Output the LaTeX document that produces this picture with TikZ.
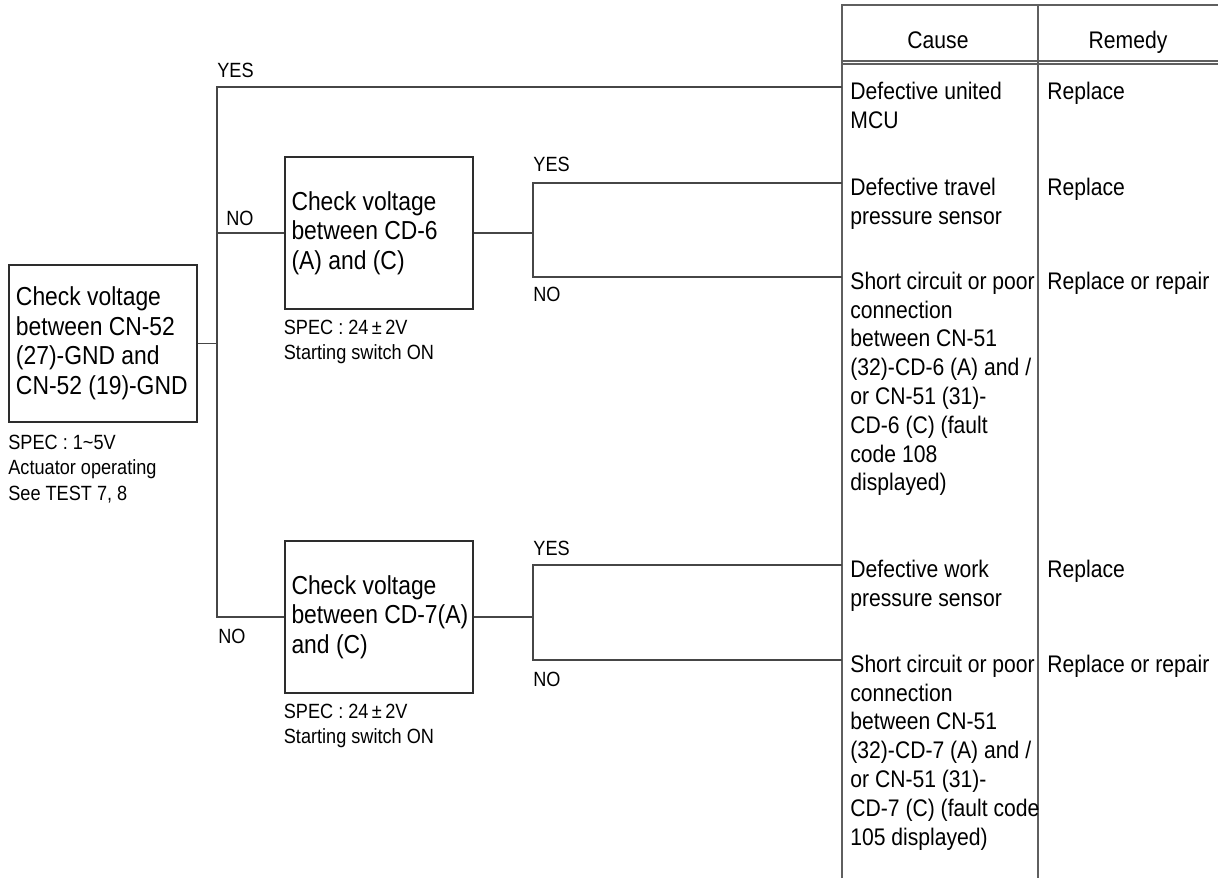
\documentclass[tikz,border=0pt]{standalone}
\usepackage{fontspec}
\setmainfont{Liberation Sans}[FakeStretch=0.88]
\usepackage{tikz}
\usetikzlibrary{positioning}
\definecolor{BoxGrey}{RGB}{45,45,45}
\definecolor{WireGrey}{RGB}{70,70,70}
\definecolor{RuleGrey}{RGB}{95,95,95}

\begin{document}
\begin{tikzpicture}[x=0.5pt,y=-0.5pt,
  chkbox/.style={draw=BoxGrey,line width=1pt,align=flush left,inner xsep=3.5pt,text width=87pt,minimum height=76pt,font=\fontsize{13}{14.75}\selectfont},
  note/.style={anchor=north west,inner sep=0pt,align=flush left,font=\fontsize{10.3}{12.6}\selectfont},
  yn/.style={anchor=west,inner sep=0pt,font=\fontsize{10.3}{12}\selectfont},
  cell/.style={anchor=north west,inner sep=0pt,align=flush left,font=\fontsize{12}{14.4}\selectfont},
  wire/.style={draw=WireGrey,line width=0.75pt},
  rule/.style={draw=RuleGrey,line width=1pt}]
\useasboundingbox (0,0) rectangle (1218,881);
% check boxes
\node[chkbox,minimum height=78.5pt] (chk52) at (103,343.5) {Check voltage\\between CN-52\\(27)-GND and\\\mbox{CN-52 (19)-GND}};
\node[chkbox] (chkcd6) at (378.5,233) {Check voltage\\between CD-6\\(A) and (C)};
\node[chkbox] (chkcd7) at (378.5,617) {Check voltage\\\mbox{between CD-7(A)}\\and (C)};
\node[below=6pt of chk52.south west,note] (spec52) {SPEC : 1\textasciitilde5V\\Actuator operating\\See TEST 7, 8};
\node[below=5pt of chkcd6.south west,note] (speccd6) {SPEC : 24\,±\,2V\\Starting switch ON};
\node[below=5pt of chkcd7.south west,note] (speccd7) {SPEC : 24\,±\,2V\\Starting switch ON};
% table
\draw[rule] (842,878) -- (842,5) -- (1218,5);
\draw[rule] (1038,5) -- (1038,878);
\draw[rule] (842,61) -- (1218,61) (842,64.5) -- (1218,64.5);
\node[anchor=base,inner sep=0pt,font=\fontsize{12}{14.4}\selectfont] (hcause) at (938,49) {Cause};
\node[anchor=base,inner sep=0pt,font=\fontsize{12}{14.4}\selectfont] (hremedy) at (1128,49) {Remedy};
\foreach \y/\nm/\cause/\rem in {87/MCU/{Defective united\\MCU}/Replace,
  183/Travel/{Defective travel\\pressure sensor}/Replace,
  277/ShortA/{Short circuit or poor\\connection\\between CN-51\\(32)-CD-6 (A) and /\\or CN-51 (31)-\\CD-6 (C) (fault\\code 108\\displayed)}/{Replace or repair},
  565/Work/{Defective work\\pressure sensor}/Replace,
  660/ShortB/{Short circuit or poor\\connection\\between CN-51\\(32)-CD-7 (A) and /\\or CN-51 (31)-\\CD-7 (C) (fault code\\105 displayed)}/{Replace or repair}}
  {\coordinate (e\nm) at (842,\y);
   \node[cell] (c\nm) at (850,\y-5.5) {\cause};
   \node[cell] (r\nm) at (1047,\y-5.5) {\rem};}
% connectors
\coordinate (jtop) at (217,87);
\coordinate (jbot) at (217,617);
\coordinate (jcd6) at (533,233);
\coordinate (jcd7) at (533,617);
\draw[wire] (chk52.east) -- (chk52.east -| jtop);
\draw[wire] (eMCU) -- (jtop) -- (jbot) -- (chkcd7.west);
\draw[wire] (chkcd6.west -| jtop) -- (chkcd6.west);
\draw[wire] (chkcd6.east) -- (jcd6);
\draw[wire] (eTravel) -| (jcd6) |- (eShortA);
\draw[wire] (chkcd7.east) -- (jcd7);
\draw[wire] (eWork) -| (jcd7) |- (eShortB);
\foreach \x/\y/\lab/\nm in {217/70/YES/yes52,226/218/NO/no52a,218/636/NO/no52b,
  533/164/YES/yescd6,533/294/NO/nocd6,533/548/YES/yescd7,533/679/NO/nocd7}
  {\node[yn] (\nm) at (\x,\y) {\lab};}
\end{tikzpicture}
\end{document}
